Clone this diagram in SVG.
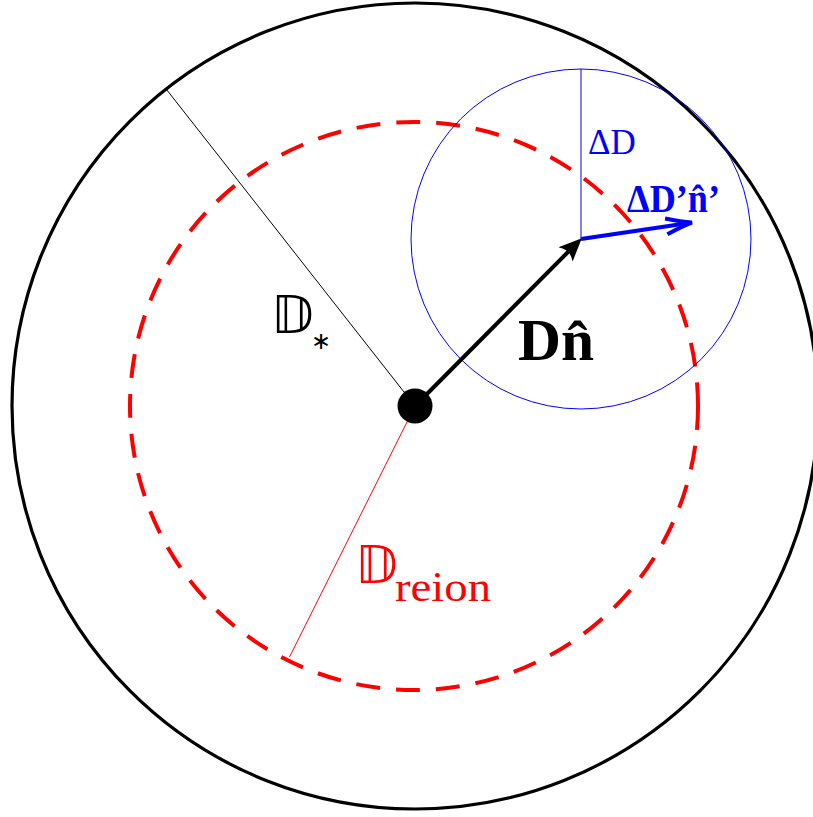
<svg xmlns="http://www.w3.org/2000/svg" width="813" height="817" viewBox="0 0 813 817">
<defs>
<style>
.ds{font-family:"DejaVu Sans","DejaVu Serif",sans-serif;}
.rm{font-family:"Liberation Serif","DejaVu Serif",serif;}
</style>
<marker id="ahK" markerWidth="40" markerHeight="30" viewBox="-34 -15 40 30" refX="-3" refY="0" orient="auto" markerUnits="userSpaceOnUse">
<path d="M1,0 L-22,-10 Q-15,0 -22,10 Z" fill="#000"/>
</marker>
<marker id="ahB" markerWidth="40" markerHeight="30" viewBox="-34 -15 40 30" refX="-3" refY="0" orient="auto" markerUnits="userSpaceOnUse">
<path d="M-26,-8 Q-10,-2 0,0 Q-10,2 -26,8" fill="none" stroke="#0000ff" stroke-width="4" stroke-linejoin="miter"/>
</marker>
</defs>
<rect width="813" height="817" fill="#fff"/>
<g id="outer-circle"><circle cx="415" cy="406" r="403" fill="none" stroke="#000" stroke-width="3.2"/></g>
<g id="reion-circle"><circle cx="414" cy="406" r="284" fill="none" stroke="#ff0000" stroke-width="4" stroke-dasharray="24 16"/></g>
<g id="delta-circle"><circle cx="581" cy="239" r="170" fill="none" stroke="#0000ff" stroke-width="1"/></g>
<g id="connectors">
<line x1="415" y1="406" x2="166.5" y2="89.5" stroke="#000" stroke-width="1"/>
<line x1="415" y1="406" x2="289.5" y2="657" stroke="#ff0000" stroke-width="1"/>
<line x1="581" y1="239" x2="581" y2="69" stroke="#0000ff" stroke-width="1"/>
<line x1="415" y1="406" x2="571" y2="249" stroke="#000" stroke-width="4"/>
<line x1="578.9" y1="241.1" x2="579" y2="241" stroke="#000" stroke-width="0.1" marker-end="url(#ahK)"/>
<line x1="581" y1="239" x2="689" y2="223" stroke="#0000ff" stroke-width="4" marker-end="url(#ahB)"/>
</g>
<g id="center-dot"><circle cx="415" cy="406" r="17.5" fill="#000"/></g>
<g id="label-dstar">
<text class="ds" x="271" y="333" font-size="52" fill="#000">𝔻</text>
<text class="ds" x="311" y="349" font-size="24" fill="#000">∗</text>
</g>
<g id="label-dn">
<text class="rm" x="518" y="360" font-size="60" font-weight="bold" fill="#000" textLength="76" lengthAdjust="spacingAndGlyphs">Dn̂</text>
</g>
<g id="label-deltad">
<text class="rm" x="588" y="154" font-size="35" fill="#0000ff">ΔD</text>
</g>
<g id="label-deltadn">
<text class="rm" x="627" y="212" font-size="40" font-weight="bold" fill="#0000ff" textLength="93" lengthAdjust="spacingAndGlyphs">ΔD’n̂’</text>
</g>
<g id="label-dreion">
<text class="ds" x="355" y="583" font-size="52" fill="#ff0000">𝔻</text>
<text class="rm" x="395" y="601" font-size="42" fill="#ff0000" textLength="96" lengthAdjust="spacingAndGlyphs">reion</text>
</g>
</svg>
